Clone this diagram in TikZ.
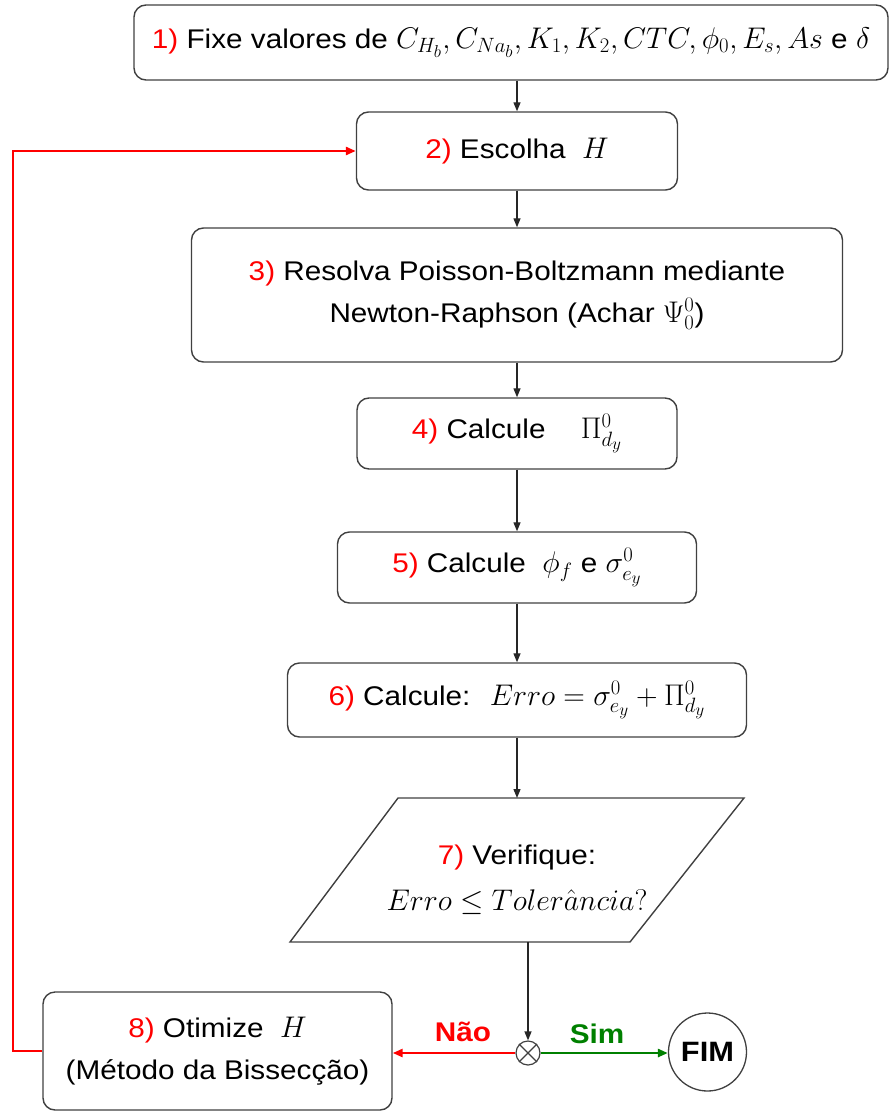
\documentclass[tikz,border=0pt]{standalone}
\usepackage{graphicx}
\usepackage[no-math]{fontspec}
\setmainfont{Liberation Sans}[FakeStretch=1.1]
\usetikzlibrary{arrows.meta}
\definecolor{boxline}{HTML}{404040}
\definecolor{myred}{HTML}{FF0000}
\definecolor{mygreen}{HTML}{008000}
\newcommand{\nr}[1]{\textcolor{myred}{#1)}}
\newcommand{\mth}[1]{\scalebox{1.2}{$#1$}}
\begin{document}
\begin{tikzpicture}[x=1pt,y=-1pt,
  box/.style={draw=boxline, line width=1.4pt, rounded corners=12pt, align=center,
    font=\fontsize{27}{42}\selectfont, inner sep=0pt},
  arr/.style={-{Triangle[length=9pt,width=7pt]}, line width=1.3pt, draw=black!85},
  redarr/.style={-{Triangle[length=10pt,width=8pt]}, line width=2.6pt, draw=myred},
  greenarr/.style={-{Triangle[length=10pt,width=8pt]}, line width=2.6pt, draw=mygreen},
  lbl/.style={font=\fontsize{27}{32}\selectfont\bfseries}]
\useasboundingbox (0,0) rectangle (891,1113);
\node[box, minimum width=754pt, minimum height=75pt] (b1) at (511,42.5)
  {\nr{1} Fixe valores de \mth{C_{H_b}, C_{Na_b}, K_1, K_2, CTC, \phi_0, E_s, As} e \mth{\delta}};
\node[box, minimum width=321pt, minimum height=78pt] (b2) at (517,151)
  {\nr{2} Escolha \ \mth{H}};
\node[box, minimum width=651pt, minimum height=134pt] (b3) at (517,295)
  {\nr{3} Resolva Poisson-Boltzmann mediante\\Newton-Raphson (Achar \mth{\Psi_0^0})};
\node[box, minimum width=320pt, minimum height=71pt] (b4) at (517,433.5)
  {\nr{4} Calcule \quad\mth{\Pi^0_{d_y}}};
\node[box, minimum width=359pt, minimum height=71pt] (b5) at (517,567.5)
  {\nr{5} Calcule \ \mth{\phi_f} e \mth{\sigma^0_{e_y}}};
\node[box, minimum width=459pt, minimum height=74pt] (b6) at (517,700)
  {\nr{6} Calcule: \ \mth{Erro=\sigma^0_{e_y}+\Pi^0_{d_y}}};
\draw[boxline, line width=1.4pt] (398,798) -- (744,798) -- (630,942) -- (290,942) -- cycle;
\node[align=center, font=\fontsize{27}{46}\selectfont] (b7) at (517,880)
  {\nr{7} Verifique:\\\mth{Erro \leq Toler\hat{a}ncia?}};
\coordinate (p7t) at (517,798);
\coordinate (p7b) at (528,942);
\node[box, minimum width=349pt, minimum height=118pt] (b8) at (217.5,1051)
  {\nr{8} Otimize \ \mth{H}\\(Método da Bissecção)};
\node[draw=boxline, line width=1.2pt, circle, minimum size=24pt, inner sep=0pt] (x) at (528,1053) {};
\draw[boxline, line width=1.2pt] (x.north west) -- (x.south east) (x.north east) -- (x.south west);
\node[draw=boxline, line width=1.3pt, circle, minimum size=78pt, inner sep=0pt,
  font=\fontsize{28}{32}\selectfont\bfseries] (fim) at (707.5,1052) {FIM};
\coordinate (c1) at (13,1051);
\draw[arr] (b2.north |- b1.south) -- (b2.north);
\draw[arr] (b2) -- (b3);
\draw[arr] (b3) -- (b4);
\draw[arr] (b4) -- (b5);
\draw[arr] (b5) -- (b6);
\draw[arr] (b6.south) -- (p7t);
\draw[arr] (p7b) -- (x.north);
\draw[redarr] (x.west) -- (b8.east |- x.west);
\draw[greenarr] (x.east) -- (fim.west |- x.east);
\draw[redarr] (b8.west) -- (c1) |- (b2.west);
\node[lbl, text=myred] (nao) at (463,1032) {Não};
\node[lbl, text=mygreen] (sim) at (597,1034) {Sim};
\end{tikzpicture}
\end{document}
